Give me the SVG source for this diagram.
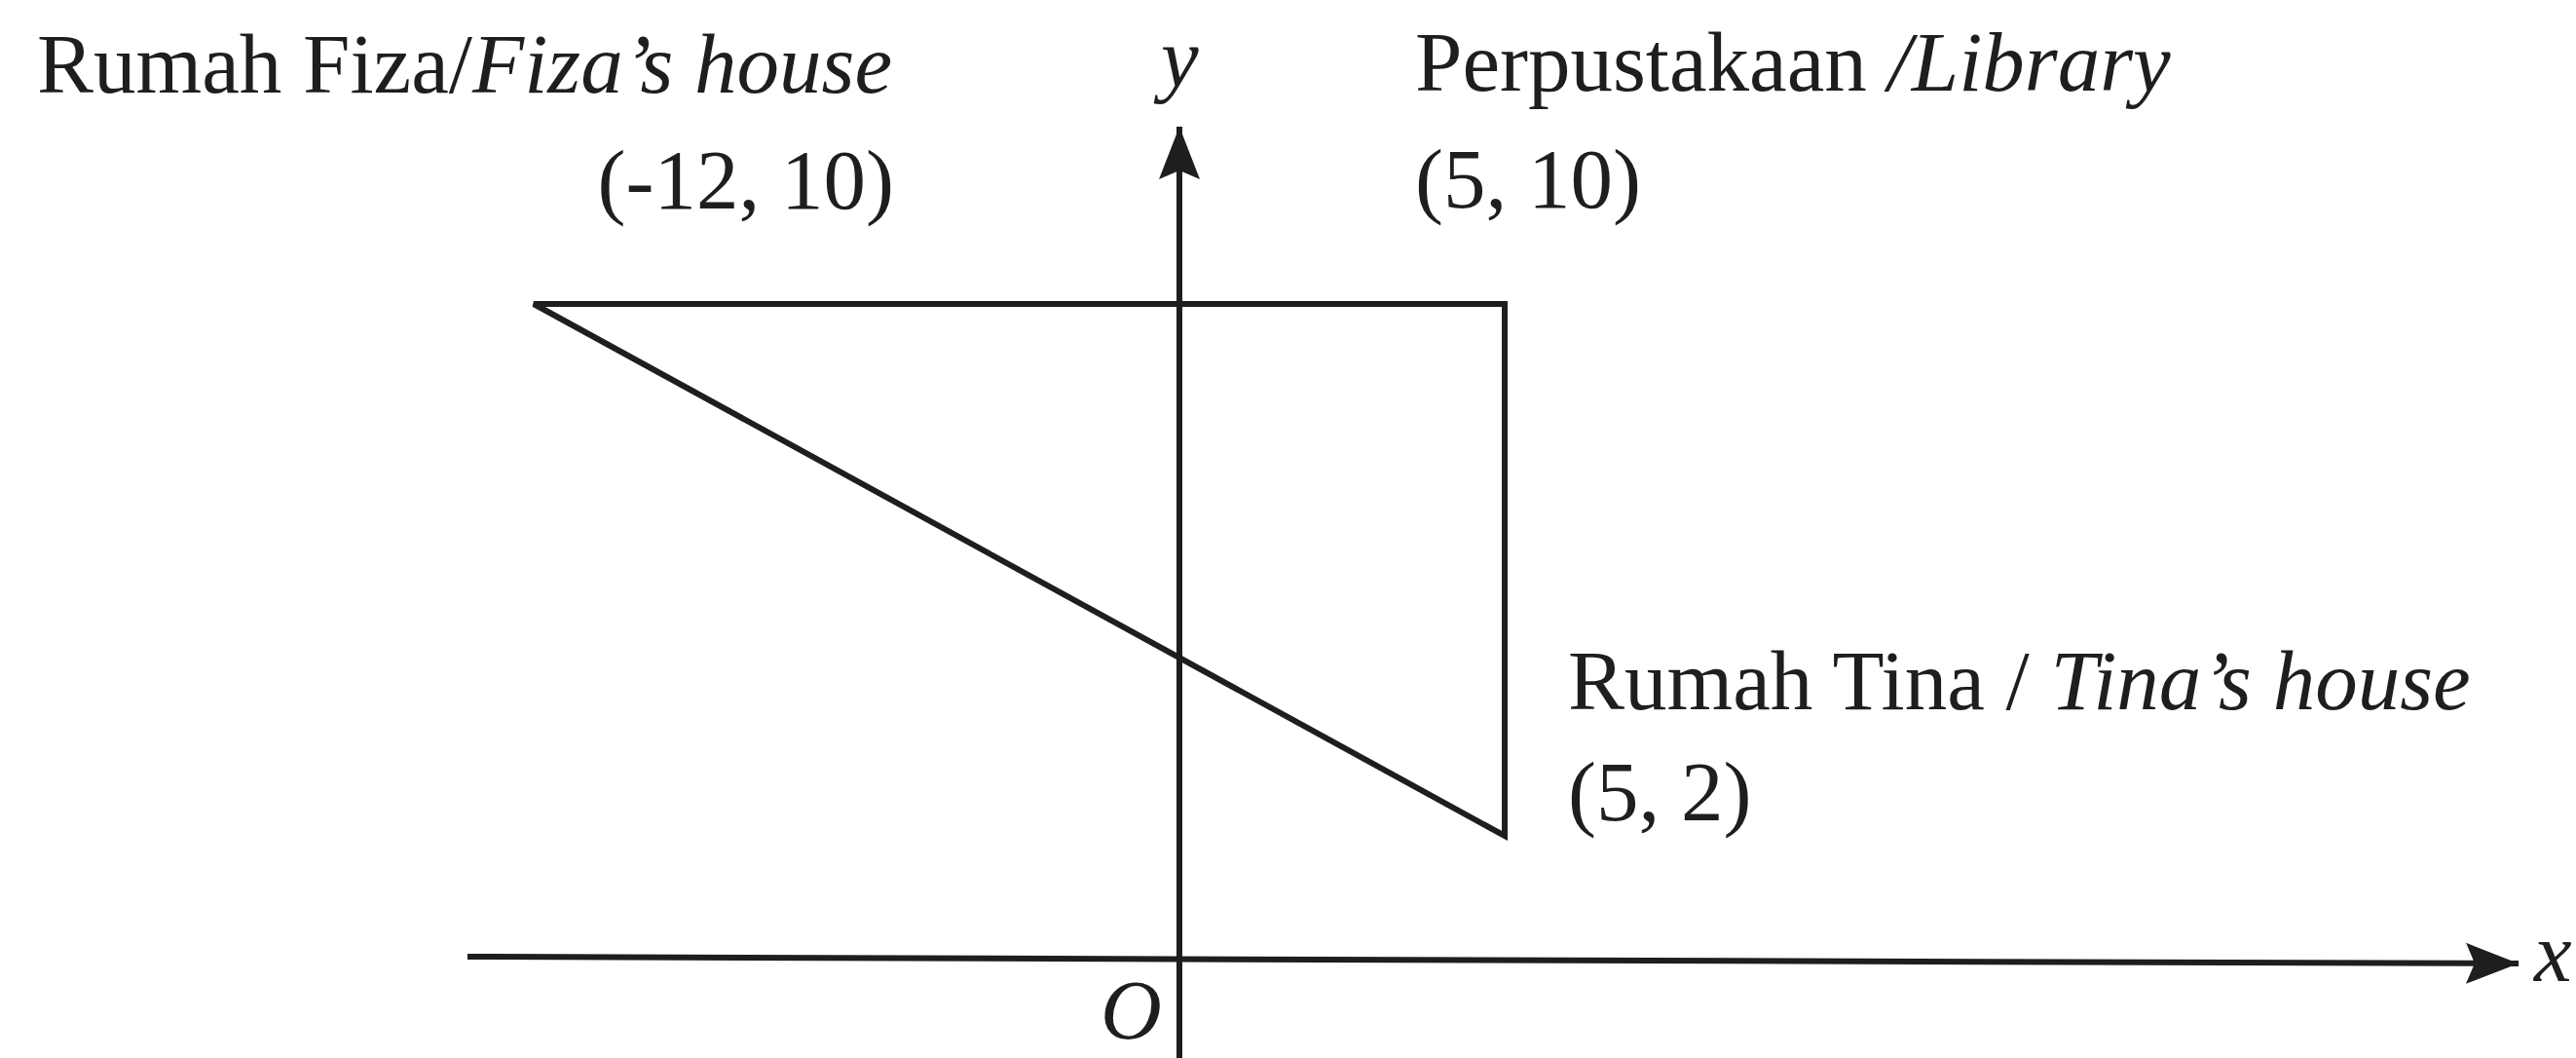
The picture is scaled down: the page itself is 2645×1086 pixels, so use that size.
<svg xmlns="http://www.w3.org/2000/svg" width="2645" height="1086" viewBox="0 0 2645 1086">
<style>
text{font-family:"Liberation Serif","Times New Roman",serif;font-size:87px;fill:#1e1e1e}
.i{font-style:italic}
.ln{stroke:#1e1e1e;stroke-width:6;fill:none;stroke-linejoin:miter}
.ax{stroke:#1e1e1e;stroke-width:6;fill:none}
</style>
<defs>
<marker id="ah" markerUnits="userSpaceOnUse" viewBox="-54 -23 56 46" refX="0" refY="0" markerWidth="56" markerHeight="46" orient="auto">
<polygon points="0,0 -54,-21 -45,0 -54,21" fill="#1e1e1e"/>
</marker>
</defs>
<rect width="2645" height="1086" fill="#fff"/>
<g id="axes">
<line class="ax" x1="480" y1="982" x2="2586" y2="989" marker-end="url(#ah)"/>
<line class="ax" x1="1211" y1="1086" x2="1211" y2="130" marker-end="url(#ah)"/>
<text class="i" x="2602" y="1007">x</text>
<text class="i" x="1192" y="88">y</text>
<text class="i" x="1130" y="1066">O</text>
</g>
<g id="connectors">
<polygon class="ln" points="548,312 1545,312 1545,858"/>
</g>
<g id="fiza">
<text x="38" y="95">Rumah Fiza/<tspan class="i">Fiza’s house</tspan></text>
<text x="918" y="214" text-anchor="end">(-12, 10)</text>
</g>
<g id="library">
<text x="1453" y="93">Perpustakaan <tspan class="i">/Library</tspan></text>
<text x="1453" y="213">(5, 10)</text>
</g>
<g id="tina">
<text x="1610" y="728">Rumah Tina / <tspan class="i">Tina’s house</tspan></text>
<text x="1610" y="842">(5, 2)</text>
</g>
</svg>
